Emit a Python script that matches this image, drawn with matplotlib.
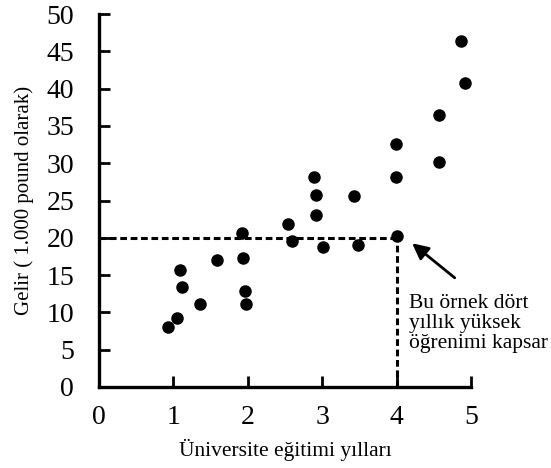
import matplotlib
matplotlib.use("Agg")
import matplotlib.pyplot as plt

plt.rcParams['font.family'] = ['Liberation Serif', 'DejaVu Serif']

years = [0.93, 1.05, 1.09, 1.11, 1.36, 1.59, 1.94, 1.96, 1.97, 1.92,
         2.89, 2.91, 2.92, 2.54, 2.60, 3.01, 3.43, 3.48, 3.99, 4.00,
         4.87, 4.92, 4.57, 3.99, 4.57]
income = [8.0, 9.2, 15.7, 13.4, 11.1, 17.0, 17.25, 12.9, 11.1, 20.6,
          28.1, 25.7, 23.0, 21.85, 19.6, 18.7, 25.6, 19.0, 28.1, 20.3,
          46.4, 40.8, 36.4, 32.6, 30.2]

x_ticks = [0, 1, 2, 3, 4, 5]
y_ticks = [0, 5, 10, 15, 20, 25, 30, 35, 40, 45, 50]
ref_x, ref_y = 4, 20

fig = plt.figure(figsize=(5.51, 4.68), dpi=100)
ax = fig.add_axes([99/551, 1-387/468, (471-99)/551, (387-14)/468])
ax.set_xlim(0, 5)
ax.set_ylim(0, 50)

ax.plot([0, ref_x], [ref_y, ref_y], color='black', lw=2.2, dashes=(2.2, 1.2), zorder=2)
ax.plot([ref_x, ref_x], [0, ref_y], color='black', lw=2.2, dashes=(2.2, 1.2), zorder=2)

ax.plot(years, income, 'o', color='black', markersize=8, zorder=3, clip_on=False)

for s in ['top', 'right']:
    ax.spines[s].set_visible(False)
for s in ['left', 'bottom']:
    ax.spines[s].set_linewidth(2.4)

ax.set_xticks(x_ticks)
ax.set_yticks(y_ticks)
ax.tick_params(axis='both', direction='in', length=8, width=2, labelsize=20)
ax.tick_params(axis='y', pad=18)
ax.tick_params(axis='x', pad=13)

ax.set_xlabel('Üniversite eğitimi yılları', fontsize=15.5)
ax.xaxis.set_label_coords(0.5, -0.14)
ax.set_ylabel('Gelir ( 1.000 pound olarak)', fontsize=15, labelpad=9)

ax.annotate('', xy=(4.18, 19.5), xytext=(4.81, 14.4),
            arrowprops=dict(arrowstyle='-|>', color='black', lw=2,
                            mutation_scale=24))
ax.text(4.16, 12.4, 'Bu örnek dört\nyıllık yüksek\nöğrenimi kapsar',
        fontsize=15.5, va='top', ha='left', linespacing=1.05, clip_on=False)

fig.savefig('out.png', dpi=100)
